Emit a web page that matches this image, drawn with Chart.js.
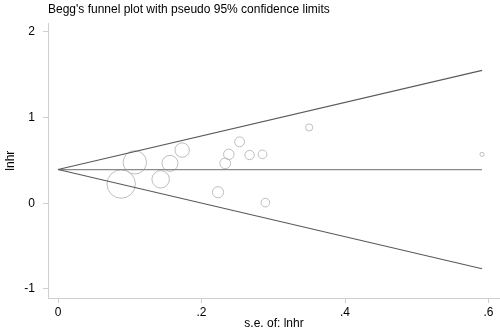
<!DOCTYPE html>
<html>
<head>
<meta charset="utf-8">
<script src="https://cdn.jsdelivr.net/npm/chart.js@4"></script>
<style>
  html, body { margin: 0; padding: 0; background: #fff; overflow: hidden; }
  canvas { display: block; }
</style>
</head>
<body>
<canvas id="funnel" width="500" height="333"></canvas>
<script>
// --- data ---
// standard error of lnhr (x) and lnhr (y) for each study
const studySe   = [0.088, 0.107, 0.143, 0.156, 0.173, 0.253, 0.238, 0.267, 0.285, 0.233, 0.223, 0.289, 0.350, 0.591];
const studyLnhr = [0.224, 0.477, 0.279, 0.465, 0.620, 0.716, 0.570, 0.562, 0.570, 0.465, 0.128, 0.007, 0.884, 0.570];

// pooled estimate line and pseudo 95% limits (ends of each line)
const lineSe    = [0, 0.591];
const pooled    = [0.393, 0.393];
const upperCL   = [0.393, 1.55];
const lowerCL   = [0.393, -0.764];

const xTicks = [0, 0.2, 0.4, 0.6];
const xTickLabels = ['0', '.2', '.4', '.6'];
const yTicks = [-1, 0, 1, 2];
const yTickLabels = ['-1', '0', '1', '2'];

const FONT = { family: "'Liberation Sans', Arial, sans-serif", size: 12 };
const AXIS_GREY = '#cfcfcf';

function toPoints(xs, ys) {
    return xs.map((x, i) => ({ x: x, y: ys[i] }));
}

function lineSet(ys, colour) {
    return {
        type: 'line',
        data: toPoints(lineSe, ys),
        borderColor: colour,
        borderWidth: 1.2,
        pointRadius: 0,
        fill: false,
        clip: false
    };
}

const ctx = document.getElementById('funnel').getContext('2d');

new Chart(ctx, {
    type: 'scatter',
    data: {
        datasets: [
            lineSet(upperCL, '#5a5a5a'),
            lineSet(lowerCL, '#5a5a5a'),
            lineSet(pooled, '#8a8a8a'),
            {
                type: 'scatter',
                data: toPoints(studySe, studyLnhr),
                // marker area follows the study weight 1/se^2
                pointRadius: c => 1.25 / c.raw.x,
                borderColor: '#bdbdbd',
                borderWidth: 1,
                backgroundColor: 'rgba(0,0,0,0)',
                clip: false
            }
        ]
    },
    options: {
        responsive: false,
        animation: false,
        devicePixelRatio: 1,
        layout: { padding: 0, autoPadding: false },
        plugins: {
            legend: { display: false },
            tooltip: { enabled: false },
            title: {
                display: true,
                text: "Begg's funnel plot with pseudo 95% confidence limits",
                align: 'start',
                fullSize: false,
                color: '#000',
                font: { family: FONT.family, size: 12, weight: 'normal', lineHeight: 1.2 },
                padding: { top: 2, bottom: 7 }
            }
        },
        scales: {
            x: {
                type: 'linear',
                min: -0.014,
                max: 0.616,
                afterBuildTicks: s => { s.ticks = xTicks.map(v => ({ value: v })); },
                afterFit: s => { s.height = 35; s.paddingLeft = 0; s.paddingRight = 0; },
                grid: { drawOnChartArea: false, drawTicks: true, tickLength: 5, color: AXIS_GREY },
                border: { color: AXIS_GREY, width: 1 },
                ticks: {
                    color: '#000',
                    font: FONT,
                    padding: 2,
                    maxRotation: 0,
                    callback: v => xTickLabels[xTicks.indexOf(v)]
                },
                title: {
                    display: true,
                    text: 's.e. of: lnhr',
                    color: '#000',
                    font: FONT,
                    padding: { top: 0, bottom: 2 }
                }
            },
            y: {
                type: 'linear',
                min: -1.105,
                max: 2.097,
                afterBuildTicks: s => { s.ticks = yTicks.map(v => ({ value: v })); },
                afterFit: s => { s.width = 48; s.paddingTop = 0; s.paddingBottom = 0; },
                grid: { drawOnChartArea: false, drawTicks: true, tickLength: 5, color: AXIS_GREY },
                border: { color: AXIS_GREY, width: 1 },
                ticks: {
                    color: '#000',
                    font: FONT,
                    padding: 8,
                    callback: v => yTickLabels[yTicks.indexOf(v)]
                },
                title: {
                    display: true,
                    text: 'lnhr',
                    color: '#000',
                    font: FONT,
                    padding: { top: 3, bottom: 0 }
                }
            }
        }
    }
});
</script>
</body>
</html>
